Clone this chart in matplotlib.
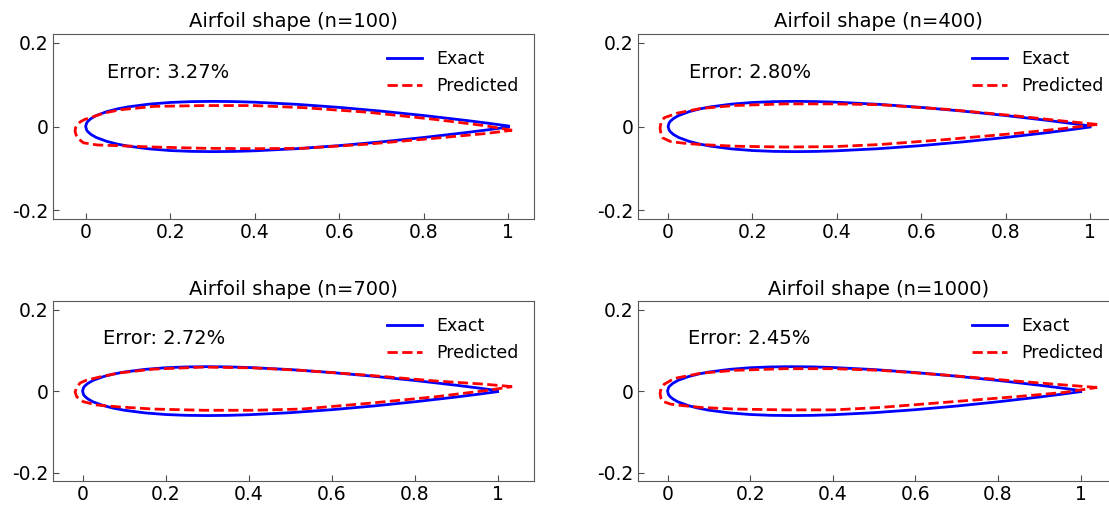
import numpy as np
import matplotlib
matplotlib.use('Agg')
import matplotlib.pyplot as plt

# values
ns = [100, 400, 700, 1000]
errors = [3.27, 2.80, 2.72, 2.45]

# exact airfoil (closed loop: trailing edge -> upper -> leading edge -> lower -> trailing edge)
exact_x = [1.0, 0.95, 0.9, 0.8, 0.7, 0.6, 0.5, 0.4, 0.35, 0.3, 0.25, 0.2, 0.15, 0.1,
           0.075, 0.05, 0.025, 0.0125, 0.005, 0.0025, 0.0,
           0.0025, 0.005, 0.0125, 0.025, 0.05, 0.075, 0.1, 0.15, 0.2, 0.25, 0.3,
           0.35, 0.4, 0.5, 0.6, 0.7, 0.8, 0.9, 0.95, 1.0]
exact_y = [0.0013, 0.0081, 0.0145, 0.0262, 0.0366, 0.0456, 0.0529, 0.0580, 0.0595, 0.0600,
           0.0594, 0.0574, 0.0534, 0.0468, 0.0420, 0.0355, 0.0262, 0.0189, 0.0122, 0.0087, 0.0,
           -0.0087, -0.0122, -0.0189, -0.0262, -0.0355, -0.0420, -0.0468, -0.0534, -0.0574,
           -0.0594, -0.0600, -0.0595, -0.0580, -0.0529, -0.0456, -0.0366, -0.0262, -0.0145,
           -0.0081, -0.0013]

# predicted shapes
pred_x_100 = [1.009, 0.944, 0.826, 0.668, 0.515, 0.397, 0.279, 0.161, 0.082, 0.043, 0.011,
              -0.002, -0.013, -0.020, -0.024, -0.025, -0.023, -0.020, -0.005, 0.027, 0.082,
              0.161, 0.279, 0.397, 0.515, 0.668, 0.826, 0.944, 1.009]
pred_y_100 = [-0.009, 0.002, 0.017, 0.034, 0.045, 0.050, 0.050, 0.048, 0.040, 0.032, 0.021,
              0.017, 0.011, 0.004, -0.003, -0.011, -0.019, -0.027, -0.039, -0.044, -0.046,
              -0.049, -0.052, -0.053, -0.052, -0.042, -0.028, -0.017, -0.009]

pred_x_400 = [1.017, 0.937, 0.818, 0.660, 0.502, 0.393, 0.275, 0.156, 0.077, 0.022, -0.009,
              -0.017, -0.019, -0.017, -0.013, 0.006, 0.038, 0.077, 0.156, 0.275, 0.393,
              0.502, 0.660, 0.818, 0.937, 1.017]
pred_y_400 = [0.005, 0.013, 0.026, 0.041, 0.052, 0.054, 0.054, 0.050, 0.043, 0.032, 0.021,
              0.010, -0.004, -0.018, -0.027, -0.036, -0.040, -0.043, -0.047, -0.049, -0.048,
              -0.043, -0.031, -0.017, -0.005, 0.005]

pred_x_700 = [1.035, 0.969, 0.849, 0.688, 0.528, 0.412, 0.292, 0.171, 0.091, 0.051, 0.010,
              -0.006, -0.014, -0.018, -0.014, 0.002, 0.034, 0.091, 0.171, 0.292, 0.412,
              0.528, 0.688, 0.849, 0.969, 1.035]
pred_y_700 = [0.011, 0.017, 0.025, 0.039, 0.051, 0.057, 0.059, 0.054, 0.045, 0.037, 0.027,
              0.020, 0.009, -0.002, -0.014, -0.026, -0.034, -0.039, -0.044, -0.047, -0.047,
              -0.044, -0.030, -0.014, 0.001, 0.011]

pred_x_1000 = [1.040, 0.962, 0.840, 0.678, 0.516, 0.404, 0.283, 0.162, 0.081, 0.016, -0.008,
               -0.016, -0.018, -0.016, -0.012, 0.008, 0.041, 0.081, 0.162, 0.283, 0.404,
               0.516, 0.678, 0.840, 0.962, 1.040]
pred_y_1000 = [0.009, 0.015, 0.025, 0.039, 0.051, 0.055, 0.055, 0.051, 0.044, 0.031, 0.017,
               0.006, -0.006, -0.017, -0.025, -0.032, -0.036, -0.040, -0.044, -0.046, -0.046,
               -0.040, -0.027, -0.014, -0.003, 0.009]

preds = [(pred_x_100, pred_y_100), (pred_x_400, pred_y_400),
         (pred_x_700, pred_y_700), (pred_x_1000, pred_y_1000)]

xticks = [0, 0.2, 0.4, 0.6, 0.8, 1.0]
xtick_labels = ['0', '0.2', '0.4', '0.6', '0.8', '1']
yticks = [-0.2, 0, 0.2]
ytick_labels = ['-0.2', '0', '0.2']

fig = plt.figure(figsize=(11.09, 5.05), dpi=100)

# axes boxes (figure fraction); right column runs past the right edge like the reference
boxes = [[0.048, 0.567, 0.4335, 0.365],
         [0.5755, 0.567, 0.4335, 0.365],
         [0.048, 0.048, 0.4335, 0.355],
         [0.5755, 0.048, 0.4335, 0.355]]

for i in range(4):
    ax = fig.add_axes(boxes[i])
    ax.plot(exact_x, exact_y, color='#0000ff', lw=2.0, label='Exact')
    px, py = preds[i]
    ax.plot(px, py, color='#ff0000', lw=2.0, ls='--', label='Predicted')
    ax.set_ylim(-0.22, 0.22)
    ax.set_xticks(xticks)
    ax.set_xticklabels(xtick_labels)
    ax.set_yticks(yticks)
    ax.set_yticklabels(ytick_labels)
    ax.tick_params(direction='in', length=4, labelsize=13.5, color='0.3')
    ax.tick_params(axis='x', pad=3)
    for s in ax.spines.values():
        s.set_color('0.35')
    ax.set_title('Airfoil shape (n=%d)' % ns[i], fontsize=14, pad=5)
    ax.text(0.05, 0.13, 'Error: %.2f%%' % errors[i], fontsize=14, va='center')
    ax.legend(loc='upper right', frameon=False, fontsize=12.5)

plt.savefig('out.png', dpi=100)
